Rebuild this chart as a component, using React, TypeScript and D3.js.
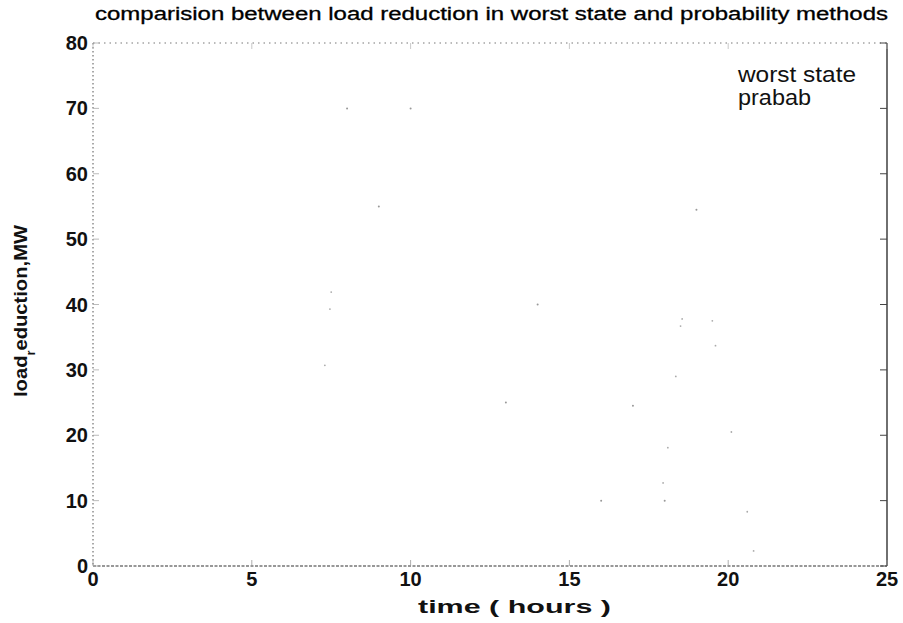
import React from "react";
import * as d3 from "d3";

const TITLE = "comparision between load reduction in worst state and probability methods";
const X_LABEL = "time ( hours )";
const X_TICKS = [0, 5, 10, 15, 20, 25];
const Y_TICKS = [0, 10, 20, 30, 40, 50, 60, 70, 80];
const LEGEND = ["worst state", "prabab"];
const LEGEND_WIDTHS = [118, 73];

// faint remnants of the plotted series visible in the scan
const worstHours = [8, 9, 10, 13, 14, 16, 17, 18, 19];
const worstMW = [70, 55, 70, 25, 40, 10, 24.5, 10, 54.5];
const prababHours = [7.3, 7.46, 7.5, 17.95, 18.1, 18.35, 18.5, 18.55, 19.5, 19.6, 20.1, 20.6, 20.8];
const prababMW = [30.7, 39.3, 41.9, 12.7, 18.1, 29, 36.7, 37.8, 37.5, 33.7, 20.5, 8.3, 2.3];

const W = 903;
const H = 623;
const L = 93, R = 887, T = 43, B = 566;

export default function App() {
  const x = d3.scaleLinear().domain([0, 25]).range([L, R]);
  const y = d3.scaleLinear().domain([0, 80]).range([B, T]);
  const font = "'Liberation Sans', Arial, sans-serif";
  const worst = worstHours.map((h, i) => [h, worstMW[i]]);
  const prabab = prababHours.map((h, i) => [h, prababMW[i]]);
  return (
    <svg width={W} height={H} style={{ position: "absolute", left: 0, top: 0, background: "#fff" }} fontFamily={font}>
      <rect x={0} y={0} width={W} height={H} fill="#fff" />
      {/* box */}
      <line x1={L} y1={T} x2={R} y2={T} stroke="#777" strokeWidth={1} strokeDasharray="1.5,4" />
      <line x1={L} y1={T} x2={L} y2={B} stroke="#555" strokeWidth={1} strokeDasharray="1.5,2.5" />
      <line x1={L} y1={B} x2={R} y2={B} stroke="#333" strokeWidth={1.2} strokeDasharray="3,1.5" />
      <line x1={R} y1={T} x2={R} y2={B} stroke="#333" strokeWidth={1.4} />
      {/* ticks */}
      {X_TICKS.map((t) => (
        <g key={"xt" + t}>
          <line x1={x(t)} x2={x(t)} y1={B} y2={B - 6} stroke="#999" strokeWidth={0.8} />
          <line x1={x(t)} x2={x(t)} y1={T} y2={T + 6} stroke="#bbb" strokeWidth={0.8} />
          <text x={x(t)} y={B + 20} textAnchor="middle" fontSize={20} fontWeight="bold" fill="#111">{t}</text>
        </g>
      ))}
      {Y_TICKS.map((t) => (
        <g key={"yt" + t}>
          <line x1={L} x2={L + 6} y1={y(t)} y2={y(t)} stroke="#aaa" strokeWidth={0.8} />
          <line x1={R} x2={R - 7} y1={y(t)} y2={y(t)} stroke="#444" strokeWidth={1} />
          <text x={L - 5} y={y(t) + 7} textAnchor="end" fontSize={20} fontWeight="bold" fill="#111">{t}</text>
        </g>
      ))}
      {/* faint series remnants */}
      {worst.map((d, i) => (
        <circle key={"w" + i} cx={x(d[0])} cy={y(d[1])} r={1} fill="#999" />
      ))}
      {prabab.map((d, i) => (
        <circle key={"p" + i} cx={x(d[0])} cy={y(d[1])} r={0.9} fill="#aaa" />
      ))}
      {/* title */}
      <text x={95} y={20} fontSize={18} fill="#000" stroke="#000" strokeWidth={0.3} textLength={793} lengthAdjust="spacingAndGlyphs">{TITLE}</text>
      {/* x label */}
      <text x={418} y={613} fontSize={19} fontWeight="bold" fill="#111" textLength={193} lengthAdjust="spacingAndGlyphs">{X_LABEL}</text>
      {/* y label */}
      <g transform="translate(27,397) rotate(-90)">
        <text x={0} y={0} fontSize={19} fill="#111" fontWeight="bold" textLength={172} lengthAdjust="spacingAndGlyphs">
          load<tspan dy={8} fontSize={12}>r</tspan><tspan dy={-8}>eduction,MW</tspan>
        </text>
      </g>
      {/* legend */}
      {LEGEND.map((s, i) => (
        <text key={s} x={738} y={82 + i * 23} fontSize={22} fill="#111" textLength={LEGEND_WIDTHS[i]} lengthAdjust="spacingAndGlyphs">{s}</text>
      ))}
    </svg>
  );
}
